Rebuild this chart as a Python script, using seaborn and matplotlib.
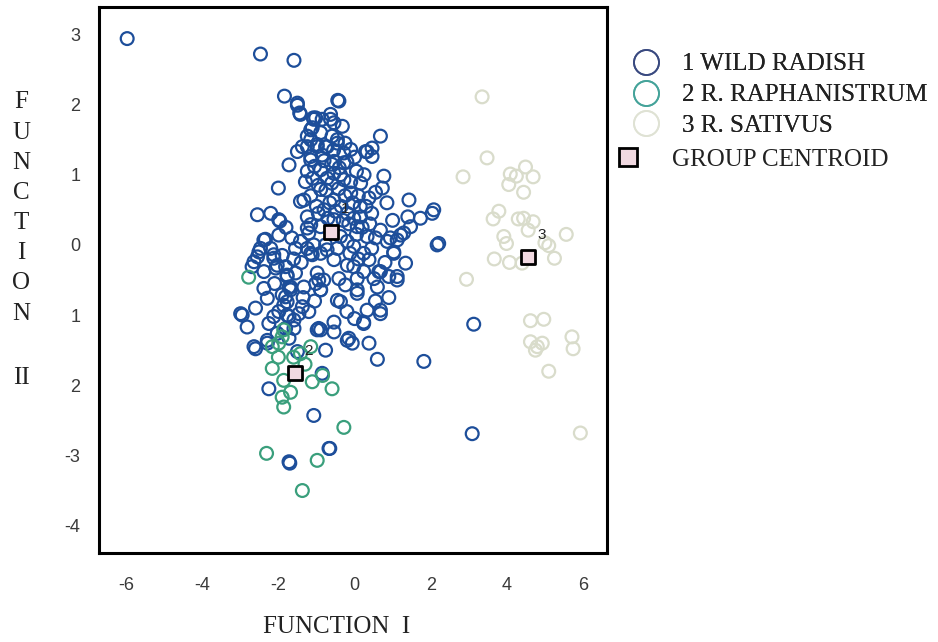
import numpy as np
import pandas as pd
import matplotlib
matplotlib.use("Agg")
import matplotlib.pyplot as plt
import seaborn as sns
from matplotlib.lines import Line2D

# ---------------- data ----------------
wild_x = [-5.97,-2.47,-1.59,-1.84,-1.50,-1.42,-1.08,-1.11,-1.72,-1.50,-2.00,-2.55,-2.20,-1.96,-1.99,-2.34,-2.47,-2.55,-2.69,-2.38,
          -2.12,-2.07,-1.81,-1.77,-1.68,-1.55,-1.42,-1.24,-1.29,-1.37,-1.15,-0.98,-0.98,-1.02,
          -2.99,-2.60,-2.82,-2.25,-2.12,-1.99,-1.86,-1.77,-1.68,-1.81,-1.59,-1.46,-1.37,-2.60,-2.29,-2.03,-1.81,-2.25,-1.07,-1.70,-0.98,
          -0.89,-0.45,0.07,0.60,0.33,0.68,0.24,-0.54,-0.89,-0.54,-0.19,-0.06,0.38,0.60,-0.76,1.82,3.13,-0.65,3.09,1.12,
          -0.94,-0.15,-1.72,-1.59,-1.72,-1.50,-0.85,-0.67,-1.72,0.24,0.68,-2.64,-2.29,-2.95,
          -0.41,0.68,0.33,0.46,0.77,0.73,1.43,2.08,2.04,1.73,1.47,2.21,1.29,1.12,0.94,0.68,1.03,1.34,1.12,0.68,
          0.38,0.51,0.07,-0.24,-0.81,-0.89,-1.33,-1.20,-1.07,-0.72,-0.02,0.33,0.16,-0.19,-0.54,-0.89,-1.24,-0.10,0.16,-0.28,
          -0.54,-0.89,-1.15,-0.10,-0.32,-0.63,-1.02,-0.89,-0.45,-0.28,-0.76,-1.24,-1.33,-0.54,-0.89,-0.37,-1.15,-0.54,-0.02,0.24,
          -2.64,-2.12,-2.03,-1.77,-1.72,-1.24,-1.11,-0.89,-0.76,-0.94,-0.41,0.24,0.64,0.38,-1.42,-1.24,-0.72,-0.37,2.17,0.86,
          1.03,1.21,0.07,-0.19,-0.02,-1.15,-1.77,-2.29,-2.38,-1.90,-0.37,0.07,-0.19,-2.38,-2.51,-1.99,
          -1.50,-1.44,-0.44,-1.07,-0.85,-0.63,-0.54,-1.15,-0.59,-1.24,-0.98,-0.72,-0.45,0.29,0.46,-1.15,-0.54,-0.28,
          -1.05,-0.80,-0.60,-0.40,-0.20,0.05,0.25,-1.10,-0.95,-0.75,-0.60,-0.42,-0.25,-0.05,0.10,0.30,0.45,-1.15,-1.00,-0.80,
          -0.65,-0.35,-0.15,0.05,0.20,0.40,0.55,-0.50,-0.30,-0.70,-0.95,0.15,-0.10,0.00,-0.25,-0.55,-0.85,-0.12,-0.45,0.10,
          0.45,0.80,-1.40,-1.55,-1.35,-1.20,-1.05,0.55,0.90,-0.20,0.00,-2.10,-2.20,-1.90,-1.65,-1.80,-1.60,1.40,1.00,0.85,
          0.55,0.90]
wild_y = [2.94,2.72,2.63,2.12,1.99,1.86,1.81,1.67,1.14,1.33,0.81,0.43,0.45,0.34,0.14,0.08,-0.05,-0.17,-0.31,-0.38,
          -0.19,-0.33,-0.31,-0.45,-0.60,-0.05,0.05,0.24,0.90,1.40,1.50,1.40,-0.40,-0.55,
          -0.98,-0.90,-1.17,-1.12,-1.02,-0.95,-0.86,-1.00,-0.64,-0.74,-1.07,-0.98,-0.88,-1.48,-1.36,-1.26,-1.19,-2.05,-2.43,-3.11,-1.21,
          -0.64,-0.79,-0.69,-0.60,-0.93,-0.93,-1.10,-1.10,-1.21,-1.24,-1.36,-1.40,-1.40,-1.63,-1.50,-1.66,-1.13,-2.90,-2.69,-0.50,
          -1.19,-1.33,-1.02,-1.19,-1.33,-1.52,-1.83,-2.90,-3.09,-1.12,-0.98,-1.45,-1.40,-1.00,
          2.05,1.55,1.33,1.38,0.98,0.81,0.64,0.50,0.45,0.38,0.26,0.02,0.17,0.07,0.10,0.21,-0.12,-0.26,-0.45,-0.38,
          -0.21,-0.48,-0.64,-0.57,-0.50,-0.64,-0.60,0.17,0.00,-0.07,-0.02,0.12,0.40,0.45,0.36,0.26,0.40,0.74,0.88,0.93,
          1.02,1.07,1.26,1.36,1.69,1.79,1.81,1.60,1.50,1.31,1.40,1.55,0.64,0.64,0.79,0.12,-0.12,-0.21,-0.31,-0.12,
          -0.24,-0.14,-0.29,-0.43,-0.60,-0.05,-0.14,-0.12,0.00,-0.50,-0.48,-0.38,-0.38,0.67,0.62,1.05,0.95,1.00,0.00,0.05,
          -0.10,0.14,0.26,0.05,0.38,0.29,-0.81,-0.76,-0.62,-0.71,-0.81,-0.48,-0.29,0.07,-0.10,0.36,
          2.02,1.88,2.06,1.79,1.79,1.86,1.74,1.64,1.55,1.40,1.43,1.40,1.45,1.33,1.26,1.21,1.19,1.17,
          1.12,1.20,1.15,1.10,1.18,1.05,1.00,0.95,0.85,0.78,0.88,0.80,0.70,0.60,0.70,0.55,0.45,0.70,0.55,0.50,
          0.60,0.55,0.30,0.15,0.25,0.30,0.10,0.48,0.35,0.38,0.45,0.55,0.90,1.25,1.45,1.35,1.28,-0.12,-0.05,-0.20,
          -0.05,-0.25,-0.25,-0.40,-0.75,-0.95,-0.80,-0.80,-0.75,-0.95,-1.05,-0.55,-0.05,-0.15,0.10,0.25,-0.20,0.40,0.35,0.60,
          0.75,-0.45]

raph_x = [-2.78,-2.16,-1.99,-1.90,-1.86,-1.42,-1.15,-2.16,-1.86,-1.90,-1.86,-1.68,-1.11,-0.59,-0.28,-2.31,-0.98,-1.37,
          -0.84,-1.60,-1.30,-2.00]
raph_y = [-0.46,-1.45,-1.40,-1.31,-1.21,-1.55,-1.45,-1.76,-1.93,-2.17,-2.31,-2.10,-1.95,-2.05,-2.60,-2.97,-3.07,-3.50,
          -1.86,-1.60,-1.70,-1.60]

sat_x = [3.35,3.48,2.85,4.09,4.25,4.49,4.69,4.05,4.44,3.79,3.64,4.30,4.44,4.69,4.56,3.92,3.99,5.56,5.10,5.25,
         3.67,4.07,4.40,2.94,4.62,4.97,4.62,4.80,4.93,4.75,5.71,5.74,5.10,5.93,5.00]
sat_y = [2.11,1.24,0.97,1.01,0.98,1.11,0.97,0.86,0.75,0.48,0.37,0.37,0.38,0.33,0.21,0.12,0.02,0.15,-0.01,-0.19,
         -0.20,-0.25,-0.26,-0.49,-1.08,-1.06,-1.38,-1.45,-1.40,-1.50,-1.31,-1.48,-1.80,-2.68,0.03]

centroid_x = [-0.62, -1.57, 4.55]
centroid_y = [0.19, -1.83, -0.17]
centroid_labels = ["1", "2", "3"]

group_names = ["1 WILD RADISH", "2 R. RAPHANISTRUM", "3 R. SATIVUS"]
x_ticks = [-6, -4, -2, 0, 2, 4, 6]
y_ticks = [3, 2, 1, 0, -1, -2, -3, -4]
y_tick_labels = ["3", "2", "1", "0", "1", "2", "-3", "-4"]

colors = ["#1d4e9a", "#3a9f7c", "#d9dccb"]

# ---------------- plot ----------------
sns.set_style("white")
plt.rcParams['font.family'] = ['Liberation Sans', 'DejaVu Sans']

fig = plt.figure(figsize=(9.38, 6.42), dpi=100)
ax = fig.add_axes([99/938, 1-553/642, 508/938, 546/642])

groups = [(wild_x, wild_y), (raph_x, raph_y), (sat_x, sat_y)]
for (gx, gy), col in zip(groups, colors):
    sns.scatterplot(x=gx, y=gy, ax=ax, s=85, facecolor='none', edgecolor=col,
                    linewidth=1.6, marker='o', zorder=3)

sns.scatterplot(x=centroid_x, y=centroid_y, ax=ax, s=110, marker='s',
                facecolor='#f1d9e1', edgecolor='black', linewidth=2.0, zorder=5)
for cx, cy, lab in zip(centroid_x, centroid_y, centroid_labels):
    ax.annotate(lab, (cx, cy), xytext=(10, 16), textcoords='offset points',
                ha='center', va='center', fontsize=11, color='#222222', zorder=6)

ax.set_xlim(-6.71, 6.63)
ax.set_ylim(-4.39, 3.39)
ax.set_xticks(x_ticks)
ax.set_xticklabels([str(t) for t in x_ticks])
ax.set_yticks(y_ticks)
ax.set_yticklabels(y_tick_labels)
ax.tick_params(axis='both', direction='out', length=7.5, width=2.0, color='black',
               labelsize=13, labelcolor='#3a3a3a', pad=6)
ax.tick_params(axis='x', pad=10)
for sp in ax.spines.values():
    sp.set_visible(True)
    sp.set_color('black')
    sp.set_linewidth(2.2)
ax.set_xlabel("")
ax.set_ylabel("")

serif = ['Liberation Serif', 'DejaVu Serif']
fig.text(337/938, 1-627/642, "FUNCTION  I", family=serif, fontsize=18,
         ha='center', va='center', color='#222222')
fig.text(21/938, 1-208/642, "F\nU\nN\nC\nT\nI\nO\nN", family=serif, fontsize=18,
         ha='center', va='center', linespacing=1.48, color='#222222')
fig.text(21/938, 1-378/642, "II", family=serif, fontsize=18,
         ha='center', va='center', color='#222222')

# legend
circ_handles = [Line2D([], [], marker='o', linestyle='none', markersize=18,
                       markerfacecolor='none', markeredgecolor=c, markeredgewidth=1.3)
                for c in ["#3a4a80", "#45a39a", "#dfe2d4"]]
leg1 = fig.legend(circ_handles, group_names, loc='upper left',
                  bbox_to_anchor=(631/938, 1-53/642), frameon=False, borderaxespad=0,
                  prop={'family': 'Liberation Serif', 'size': 18},
                  labelspacing=0.33, handletextpad=0.84, borderpad=0, handlelength=1.2)
for t in leg1.get_texts():
    t.set_color('#222222')
sq_handle = [Line2D([], [], marker='s', linestyle='none', markersize=12.5,
                    markerfacecolor='#f1d9e1', markeredgecolor='black', markeredgewidth=2)]
leg2 = fig.legend(sq_handle, ["GROUP CENTROID"], loc='upper left',
                  bbox_to_anchor=(613/938, 1-148/642), frameon=False, borderaxespad=0,
                  prop={'family': 'Liberation Serif', 'size': 18},
                  handletextpad=1.16, borderpad=0, handlelength=1.2)
for t in leg2.get_texts():
    t.set_color('#222222')
fig.add_artist(leg1)

fig.savefig("out.png", dpi=100)
